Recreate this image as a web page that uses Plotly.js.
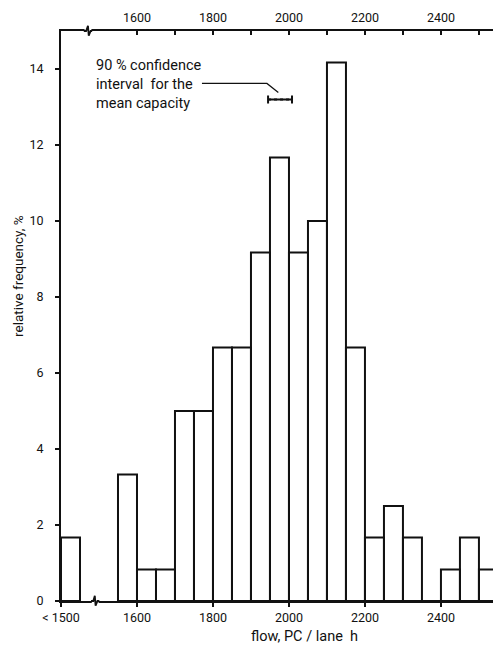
<!DOCTYPE html>
<html>
<head>
<meta charset="utf-8">
<script src="https://cdn.plot.ly/plotly-3.0.1.min.js"></script>
<style>html,body{margin:0;padding:0;background:#fff;}#chart{width:493px;height:646px;}</style>
</head>
<body>
<div id="chart"></div>
<script>
// Flow classes (bin centres on a broken axis; first class "< 1500" drawn at the left edge)
const binCenters = [1425, 1575, 1625, 1675, 1725, 1775, 1825, 1875, 1925, 1975, 2025, 2075, 2125, 2175, 2225, 2275, 2325, 2375, 2425, 2475, 2525];
const relFreq    = [1.67, 3.33, 0.83, 0.83, 5.0, 5.0, 6.67, 6.67, 9.17, 11.67, 9.17, 10.0, 14.17, 6.67, 1.67, 2.5, 1.67, 0, 0.83, 1.67, 0.83];
const binWidth = 50;

// bottom axis ticks and labels
const bottomTickVals = [1400, 1600, 1800, 2000, 2200, 2400];
const bottomTickText = ['< 1500', '1600', '1800', '2000', '2200', '2400'];
// top axis ticks and labels
const topTickVals = [1600, 1700, 1800, 1900, 2000, 2100, 2200, 2300, 2400, 2500];
const topTickText = ['1600', '', '1800', '', '2000', '', '2200', '', '2400', ''];
// y ticks
const yTickVals = [0, 2, 4, 6, 8, 10, 12, 14];

// 90% confidence interval for the mean capacity
const ciMean = 1975, ciLow = 1945, ciHigh = 2008, ciLevel = 13.2;

const FONT = 'Roboto, "Liberation Sans", sans-serif';

const traces = [
  {
    type: 'bar',
    x: binCenters,
    y: relFreq,
    width: binCenters.map(() => binWidth),
    marker: {color: 'rgba(255,255,255,0)', line: {color: '#111', width: 2}},
    hoverinfo: 'x+y',
    showlegend: false
  },
  {
    type: 'scatter',
    mode: 'lines',
    x: [ciLow, ciHigh],
    y: [ciLevel, ciLevel],
    xaxis: 'x2',
    line: {color: '#111', width: 2, dash: 'dot'},
    showlegend: false
  },
  {
    type: 'scatter',
    mode: 'markers',
    x: [ciMean],
    y: [ciLevel],
    xaxis: 'x2',
    marker: {size: 1, color: '#111'},
    error_x: {type: 'data', symmetric: false, array: [ciHigh - ciMean], arrayminus: [ciMean - ciLow], color: '#111', thickness: 2, width: 4},
    showlegend: false
  }
];

const xRange = [1400, 2537];
const layout = {
  width: 493, height: 646,
  margin: {l: 61, r: 0, t: 31, b: 45, pad: 0},
  paper_bgcolor: '#fff', plot_bgcolor: '#fff',
  font: {family: FONT, size: 12.5, color: '#111'},
  showlegend: false,
  bargap: 0,
  xaxis: {
    range: xRange, showgrid: false, zeroline: false,
    showline: true, linecolor: '#111', linewidth: 2,
    ticks: 'outside', ticklen: 4, tickwidth: 1.5, tickcolor: '#111',
    tickmode: 'array', tickvals: bottomTickVals, ticktext: bottomTickText,
    tickfont: {family: FONT, size: 12.5, color: '#111'}
  },
  xaxis2: {
    range: xRange, overlaying: 'x', side: 'top', anchor: 'y',
    showgrid: false, zeroline: false,
    showline: true, linecolor: '#111', linewidth: 2,
    ticks: 'inside', ticklen: 4, tickwidth: 1.5, tickcolor: '#111',
    tickmode: 'array', tickvals: topTickVals, ticktext: topTickText,
    ticklabelstandoff: 2,
    tickfont: {family: FONT, size: 12.5, color: '#111'}
  },
  yaxis: {
    range: [0, 15], showgrid: false, zeroline: false,
    showline: true, linecolor: '#111', linewidth: 2,
    ticks: 'outside', ticklen: 4, tickwidth: 1.5, tickcolor: '#111',
    tickmode: 'array', tickvals: yTickVals,
    ticklabelstandoff: 9,
    tickfont: {family: FONT, size: 12.5, color: '#111'}
  },
  shapes: [
    // axis break marks
    {type: 'rect', xref: 'x', yref: 'paper', x0: 1462, x1: 1480, y0: 0.985, y1: 1.015, fillcolor: '#fff', line: {width: 0}, layer: 'above'},
    {type: 'path', xref: 'x', yref: 'paper', path: 'M 1460 1 L 1466 1 L 1471 1.009 L 1473 0.992 L 1478 1 L 1482 1', line: {color: '#111', width: 1.8}, layer: 'above'},
    {type: 'rect', xref: 'x', yref: 'paper', x0: 1481, x1: 1499, y0: -0.015, y1: 0.015, fillcolor: '#fff', line: {width: 0}, layer: 'above'},
    {type: 'path', xref: 'x', yref: 'paper', path: 'M 1479 0 L 1485 0 L 1489 0.009 L 1491 -0.008 L 1496 0 L 1501 0', line: {color: '#111', width: 1.8}, layer: 'above'},
    // leader line to the confidence interval
    {type: 'path', xref: 'x', yref: 'y', path: 'M 1771 13.62 L 1942 13.62 L 1972 13.38', line: {color: '#111', width: 1.2}}
  ],
  annotations: [
    {xref: 'x', yref: 'y', x: 1487, y: 14.38, xanchor: 'left', yanchor: 'top', align: 'left', showarrow: false,
     text: '90 % confidence<br>interval  for the<br>mean capacity', font: {family: FONT, size: 14.5, color: '#111'}},
    {xref: 'paper', yref: 'paper', x: (304 - 61) / 432, y: -0.063, xanchor: 'center', yanchor: 'middle', showarrow: false,
     text: 'flow, PC / lane  h', font: {family: FONT, size: 14.5, color: '#111'}},
    {xref: 'paper', yref: 'paper', x: -0.1, y: 0.57, xanchor: 'center', yanchor: 'middle', showarrow: false, textangle: -90,
     text: 'relative frequency, %', font: {family: FONT, size: 13.5, color: '#111'}}
  ]
};

Plotly.newPlot('chart', traces, layout, {displayModeBar: false, staticPlot: true});
</script>
</body>
</html>
